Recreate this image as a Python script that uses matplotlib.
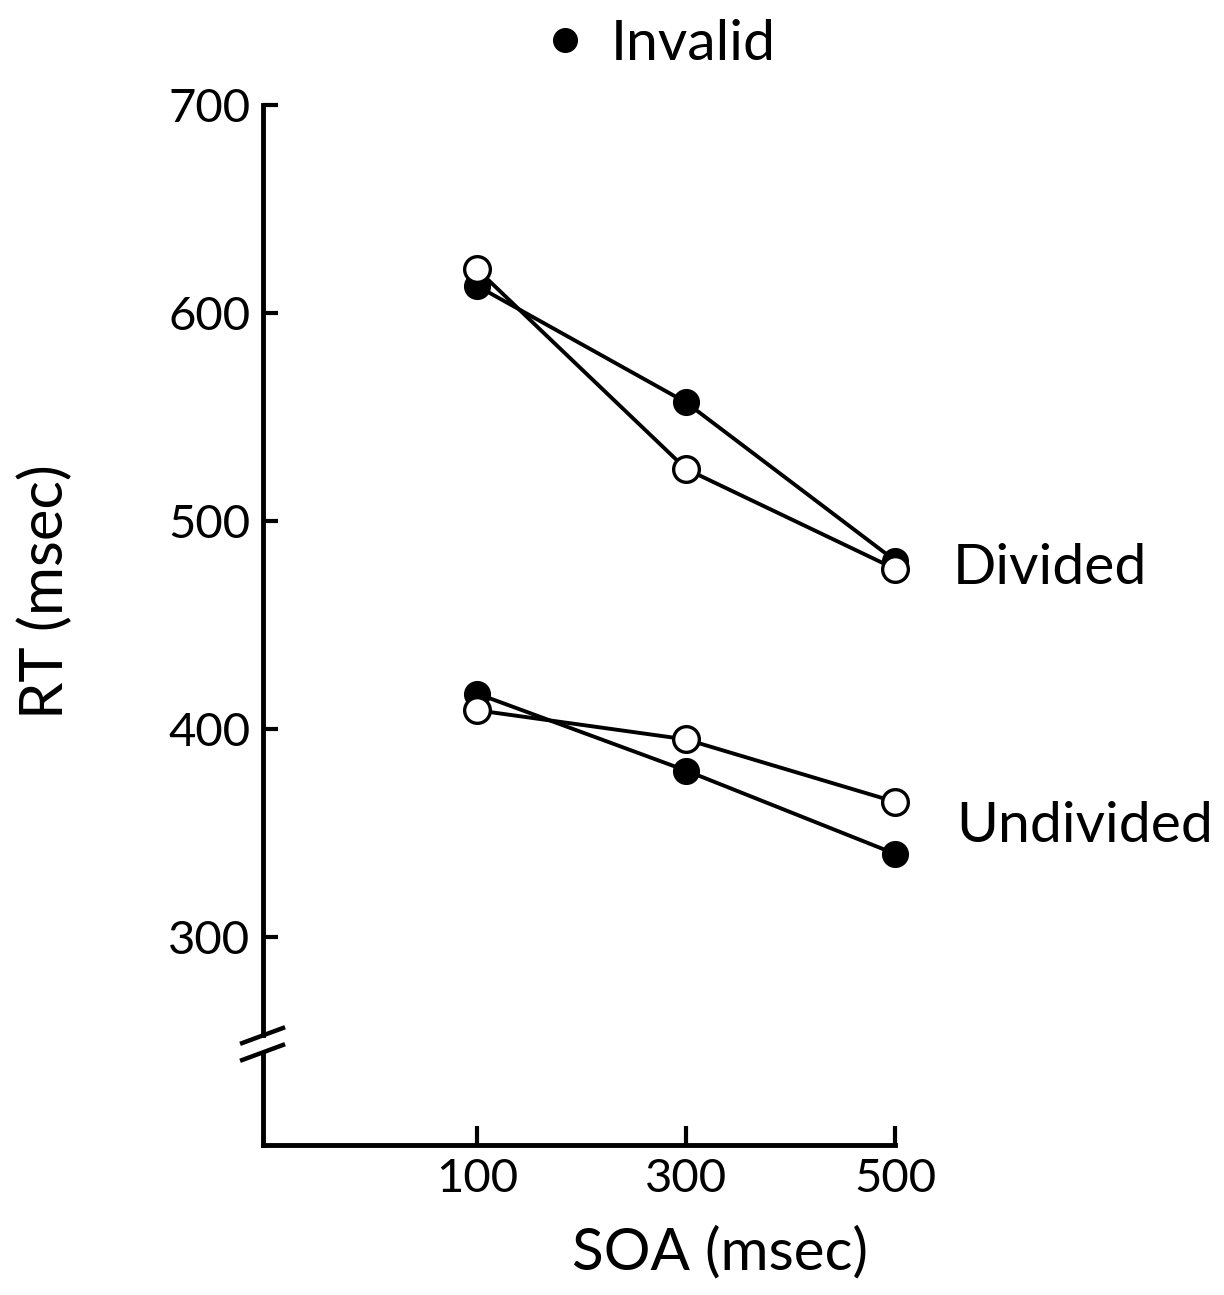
import matplotlib
matplotlib.use("Agg")
import matplotlib.pyplot as plt
from matplotlib.lines import Line2D

plt.rcParams['font.family'] = ['Lato', 'DejaVu Sans']

soa = [100, 300, 500]
divided_invalid = [613, 557, 481]
divided_valid = [621, 525, 477]
undivided_invalid = [417, 380, 340]
undivided_valid = [409, 395, 365]
yticks = [300, 400, 500, 600, 700]
xticks = [100, 300, 500]

fig = plt.figure(figsize=(12.24, 12.95), dpi=100)
ax = fig.add_axes([263/1224, 1 - 1145/1295, 632/1224, 1040/1295])
ax.set_xlim(-105, 500)
ax.set_ylim(200, 700)

lw = 2.8
ms = 18.5
for vals in (divided_invalid, undivided_invalid):
    ax.plot(soa, vals, color='black', lw=lw, marker='o', ms=ms,
            mfc='black', mec='black', clip_on=False, zorder=3)
for vals in (divided_valid, undivided_valid):
    ax.plot(soa, vals, color='black', lw=lw, marker='o', ms=ms,
            mfc='white', mec='black', mew=2.4, clip_on=False, zorder=4)

for s in ('top', 'right', 'left'):
    ax.spines[s].set_visible(False)
ax.spines['bottom'].set_linewidth(3.5)

# left axis with break
tr = ax.transAxes
ax.plot([0, 0], [0, 0.0885], color='black', lw=3.5, transform=tr, clip_on=False,
        solid_capstyle='projecting')
ax.plot([0, 0], [0.1058, 1.0], color='black', lw=3.5, transform=tr, clip_on=False)
ax.plot([-0.033, 0.0316], [0.098, 0.1125], color='black', lw=3.2, transform=tr, clip_on=False)
ax.plot([-0.033, 0.0316], [0.0817, 0.0962], color='black', lw=3.2, transform=tr, clip_on=False)

ax.set_yticks(yticks)
ax.set_xticks(xticks)
ax.tick_params(axis='y', direction='in', length=11, width=3, labelsize=34, pad=9)
ax.tick_params(axis='x', direction='in', length=14, width=3, labelsize=34, pad=9)

ax.set_ylabel('RT (msec)', fontsize=43)
ax.set_xlabel('SOA (msec)', fontsize=42)
ax.yaxis.set_label_coords(-0.30, 0.532)
ax.xaxis.set_label_coords(0.723, -0.078)

ax.text(555, divided_valid[-1], 'Divided', fontsize=41, va='center', ha='left', clip_on=False)
ax.text(559, 353, 'Undivided', fontsize=41, va='center', ha='left', clip_on=False)

h = Line2D([], [], marker='o', ls='', color='black', markersize=17)
fig.legend(handles=[h], labels=['Invalid'], loc='center', bbox_to_anchor=(0.536, 0.966),
           frameon=False, fontsize=41, handletextpad=0.3, handlelength=1.0)

fig.savefig('out.png', dpi=100)
